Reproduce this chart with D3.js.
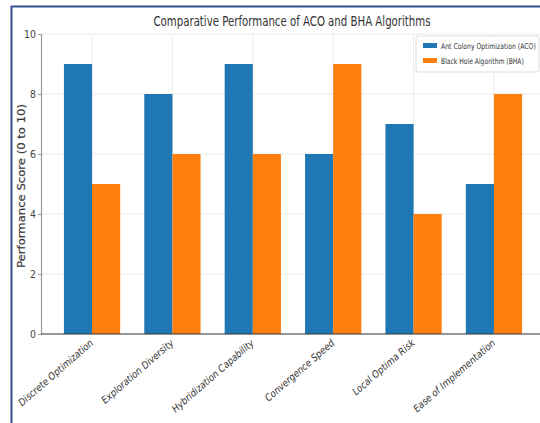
<!DOCTYPE html>
<html>
<head>
<meta charset="utf-8">
<script src="https://cdn.jsdelivr.net/npm/d3@7/dist/d3.min.js"></script>
<style>
  html, body { margin: 0; padding: 0; background: #fff; }
  svg { display: block; }
</style>
</head>
<body>
<svg id="chart" width="540" height="423"></svg>
<script>
// Scores per criterion for both algorithms
const categories = [
  "Discrete Optimization",
  "Exploration Diversity",
  "Hybridization Capability",
  "Convergence Speed",
  "Local Optima Risk",
  "Ease of Implementation"
];
const seriesNames = ["Ant Colony Optimization (ACO)", "Black Hole Algorithm (BHA)"];
const acoScores = [9, 8, 9, 6, 7, 5];
const bhaScores = [5, 6, 6, 9, 4, 8];
const yTicks = [0, 2, 4, 6, 8, 10];
const colors = ["#1f77b4", "#ff7f0e"];

const svg = d3.select("#chart");
const W = 540, H = 423;
const margin = { left: 41, top: 34, bottom: 89 };
const plotBottom = H - margin.bottom;   // y of zero line

// Frame around the figure
svg.append("path")
  .attr("d", `M11.5,${H} L11.5,6.5 L${W},6.5`)
  .attr("fill", "none")
  .attr("stroke", "#35508f")
  .attr("stroke-width", 2);

// Category positions on a linear index axis (bar width 0.35 each, 5% padding)
const n = categories.length;
const barW = 0.35;
const span = (n - 1) + 2 * barW;
const x = d3.scaleLinear()
  .domain([-barW - 0.05 * span, (n - 1) + barW + 0.05 * span])
  .range([margin.left, 545]);
const y = d3.scaleLinear().domain([0, 10]).range([plotBottom, margin.top]);

const font = "'DejaVu Sans', 'Liberation Sans', sans-serif";

// Squeeze a text horizontally so it spans the given width
function fitWidth(sel, width, x0, y0, anchor) {
  sel.each(function () {
    const len = this.getComputedTextLength();
    const sx = width / len;
    d3.select(this).attr("transform", `translate(${x0},${y0}) scale(${sx},1)`);
  });
}

// Grid lines
const grid = svg.append("g");
grid.selectAll("line.h").data(yTicks.slice(1)).join("line")
  .attr("x1", margin.left).attr("x2", W)
  .attr("y1", d => y(d)).attr("y2", d => y(d))
  .attr("stroke", "#e6e6e6").attr("stroke-width", 0.8);
grid.selectAll("line.v").data(d3.range(n)).join("line")
  .attr("x1", d => x(d)).attr("x2", d => x(d))
  .attr("y1", margin.top).attr("y2", plotBottom)
  .attr("stroke", "#e6e6e6").attr("stroke-width", 0.8);

// Bars
const series = [acoScores, bhaScores];
series.forEach((vals, si) => {
  svg.append("g").selectAll("rect").data(vals).join("rect")
    .attr("x", (d, i) => x(i + (si - 1) * barW))
    .attr("width", x(barW) - x(0))
    .attr("y", d => y(d))
    .attr("height", d => plotBottom - y(d))
    .attr("fill", colors[si]);
});

// Y axis
const yAxis = svg.append("g")
  .attr("transform", `translate(${margin.left},0)`)
  .call(d3.axisLeft(y).tickValues(yTicks).tickSize(3).tickPadding(3));
yAxis.select(".domain").attr("stroke", "#999").attr("stroke-width", 1.2);
yAxis.selectAll(".tick line").attr("stroke", "#999");
yAxis.selectAll(".tick text")
  .attr("font-family", font).attr("font-size", 11).attr("fill", "#444")
  .attr("transform", "scale(0.85,1)");

// X axis line
svg.append("line")
  .attr("x1", margin.left).attr("x2", W)
  .attr("y1", plotBottom).attr("y2", plotBottom)
  .attr("stroke", "#333").attr("stroke-width", 1.2);

// Rotated category labels
svg.append("g").selectAll("text").data(categories).join("text")
  .attr("transform", (d, i) => `translate(${x(i) + 2},${plotBottom + 10}) rotate(-41) scale(0.88,1)`)
  .attr("text-anchor", "end")
  .attr("font-family", font)
  .attr("font-size", 10)
  .attr("font-style", "italic")
  .attr("fill", "#333")
  .text(d => d);

// Title
svg.append("text")
  .attr("x", 292).attr("y", 26)
  .attr("text-anchor", "middle")
  .attr("font-family", font)
  .attr("font-size", 14)
  .attr("fill", "#333")
  .attr("textLength", 277)
  .attr("lengthAdjust", "spacingAndGlyphs")
  .text("Comparative Performance of ACO and BHA Algorithms");

// Y axis title
svg.append("text")
  .attr("transform", `translate(25,${(margin.top + plotBottom) / 2 + 2}) rotate(-90)`)
  .attr("text-anchor", "middle")
  .attr("font-family", font)
  .attr("font-size", 11)
  .attr("fill", "#3a3a3a")
  .attr("stroke", "#3a3a3a")
  .attr("stroke-width", 0.2)
  .attr("textLength", 164)
  .attr("lengthAdjust", "spacingAndGlyphs")
  .text("Performance Score (0 to 10)");

// Legend
const lg = svg.append("g").attr("transform", "translate(416,36)");
lg.append("rect")
  .attr("width", 123).attr("height", 36).attr("rx", 2)
  .attr("fill", "#fff").attr("fill-opacity", 0.85)
  .attr("stroke", "#ddd");
seriesNames.forEach((name, i) => {
  lg.append("rect")
    .attr("x", 7).attr("y", 7 + i * 15)
    .attr("width", 14).attr("height", 5)
    .attr("fill", colors[i]);
  const t = lg.append("text")
    .attr("font-family", font)
    .attr("font-size", 8)
    .attr("fill", "#333")
    .text(name);
  fitWidth(t, i === 0 ? 95 : 83, 25, 13 + i * 15);
});
</script>
</body>
</html>
